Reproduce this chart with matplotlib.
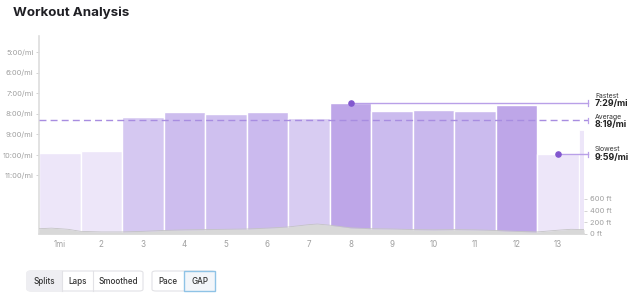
import matplotlib
matplotlib.use("Agg")
import matplotlib.pyplot as plt
from matplotlib.patches import FancyBboxPatch, Rectangle

plt.rcParams['font.family'] = ['Inter', 'DejaVu Sans']

# split data (pace in minutes per mile)
miles = [1, 2, 3, 4, 5, 6, 7, 8, 9, 10, 11, 12, 13]
pace = [9.93, 9.83, 8.17, 7.93, 8.0, 7.9, 8.2, 7.48, 7.85, 7.8, 7.85, 7.58, 9.98]
bar_colors = ['#ede6f9', '#ede6f9', '#d5c8f1', '#cdbdee', '#cfc0ef', '#cbbaee',
              '#d8ccf2', '#bea6e8', '#cbbbee', '#c9b8ed', '#cbbbee', '#bea6e8', '#ede6f9']
last_x = 13.56
last_w = 0.12
last_pace = 8.8
avg_pace = 8.32
fastest_mile, fastest_pace = 8, 7.48
slowest_mile, slowest_pace = 13, 9.98

pace_ticks = [5, 6, 7, 8, 9, 10, 11]
pace_labels = ['5:00/mi', '6:00/mi', '7:00/mi', '8:00/mi', '9:00/mi', '10:00/mi', '11:00/mi']

# elevation profile
elev_x = [0.5, 0.8, 1.2, 1.5, 2.0, 2.5, 3.0, 3.5, 4.0, 4.5, 5.0, 5.5, 6.0, 6.5, 7.0, 7.2,
          7.5, 8.0, 8.5, 9.0, 9.5, 10.0, 10.5, 11.0, 11.5, 12.0, 12.5, 13.0, 13.3, 13.62]
elev_ft = [90, 100, 80, 45, 35, 35, 45, 60, 70, 75, 80, 85, 100, 120, 160, 170,
           150, 105, 90, 85, 75, 70, 75, 70, 60, 45, 35, 65, 80, 75]
elev_ticks = [0, 200, 400, 600]
elev_labels = ['0 ft', '200 ft', '400 ft', '600 ft']

W, H = 639, 300
fig = plt.figure(figsize=(W / 100, H / 100), dpi=100)
fig.text(13 / W, 1 - 13 / H, 'Workout Analysis', fontsize=9.6, fontweight='bold',
         color='#1f1f24', va='center', ha='left')

ax = fig.add_axes([39 / W, (H - 234) / H, (584 - 39) / W, (234 - 36) / H])
base = 13.85
ax.set_ylim(base, 4.22)
ax.set_xlim(0.5, 13.62)

ax.bar(miles, [base - p for p in pace], bottom=pace, width=1.0, color=bar_colors,
       edgecolor='white', linewidth=1.0, zorder=2)
ax.bar([last_x], [base - last_pace], bottom=[last_pace], width=last_w, color='#ede6f9',
       edgecolor='white', linewidth=0.6, zorder=2)

ax.set_yticks(pace_ticks)
ax.set_yticklabels(pace_labels)
ax.set_xticks(miles)
ax.set_xticklabels(['1mi'] + [str(m) for m in miles[1:]])
ax.tick_params(axis='y', length=2.5, width=0.6, color='#cccccc', labelsize=5.4,
               labelcolor='#a0a0a0', pad=1.5)
ax.tick_params(axis='x', length=0, labelsize=5.8, labelcolor='#a0a0a0', pad=4)
for s in ['top', 'right']:
    ax.spines[s].set_visible(False)
ax.spines['left'].set_color('#dddddd')
ax.spines['left'].set_linewidth(1.2)
ax.spines['bottom'].set_color('#dddddd')
ax.spines['bottom'].set_linewidth(1.2)

# reference lines
line_end = 13.62 + 4 / 41.6
ax.plot([0.5, line_end], [avg_pace, avg_pace], color='#a88de0', lw=1.0,
        dashes=(5, 3), zorder=4, clip_on=False)
ax.plot([fastest_mile, line_end], [fastest_pace, fastest_pace], color='#b9a0e8', lw=1.0,
        zorder=4, clip_on=False)
ax.plot([slowest_mile, line_end], [slowest_pace, slowest_pace], color='#b9a0e8', lw=1.0,
        zorder=4, clip_on=False)
for yy in [fastest_pace, avg_pace, slowest_pace]:
    ax.plot([line_end, line_end], [yy - 0.13, yy + 0.13], color='#b9a0e8', lw=0.9,
            zorder=4, clip_on=False)
ax.scatter([fastest_mile, slowest_mile], [fastest_pace, slowest_pace], s=14,
           color='#8257cf', zorder=5)

# annotation labels (label / value offsets in points)
for name, val, yy, dy_name, dy_val in [('Fastest', '7:29/mi', fastest_pace, 5.4, 0),
                                       ('Average', '8:19/mi', avg_pace, 2.6, -2.9),
                                       ('Slowest', '9:59/mi', slowest_pace, 4.0, -2.2)]:
    ax.annotate(name, (line_end, yy), xytext=(5, dy_name), textcoords='offset points',
                fontsize=4.9, color='#333333', va='center', ha='left', annotation_clip=False)
    ax.annotate(val, (line_end, yy), xytext=(5, dy_val), textcoords='offset points',
                fontsize=6.4, fontweight='bold', color='#222222', va='center', ha='left',
                annotation_clip=False)

# elevation
ax2 = ax.twinx()
ax2.set_ylim(0, 198 / 11.7 * 200)
ax2.fill_between(elev_x, elev_ft, 0, color='#d8d8d8', lw=0, zorder=3)
ax2.plot(elev_x, elev_ft, color='#c4c4c4', lw=0.6)
ax2.set_yticks(elev_ticks)
ax2.set_yticklabels(elev_labels)
ax2.tick_params(axis='y', length=2.5, width=0.6, color='#cccccc', labelsize=5.4,
                labelcolor='#a0a0a0', pad=2)
for s in ['top', 'left', 'bottom', 'right']:
    ax2.spines[s].set_visible(False)

# toggle buttons
def button_group(x0, labels, widths, active, active_style):
    total = sum(widths)
    y0, h = H - 291, 20
    fig.patches.append(FancyBboxPatch((x0 / W, y0 / H), total / W, h / H,
                                      boxstyle='round,pad=0,rounding_size=0.006',
                                      transform=fig.transFigure, facecolor='white',
                                      edgecolor='#e2e2e6', lw=0.8))
    x = x0
    for i, (lab, w) in enumerate(zip(labels, widths)):
        if i == active:
            if active_style == 'fill':
                fig.patches.append(Rectangle((x / W, y0 / H), w / W, h / H,
                                             transform=fig.transFigure,
                                             facecolor='#eeeef2', edgecolor='none'))
            else:
                fig.patches.append(Rectangle((x / W, y0 / H), w / W, h / H,
                                             transform=fig.transFigure,
                                             facecolor='#f3f6fa', edgecolor='#8fc3e6', lw=1.0))
        elif i > 0:
            fig.lines.append(plt.Line2D([x / W, x / W], [y0 / H, (y0 + h) / H],
                                        transform=fig.transFigure, color='#e2e2e6', lw=0.8))
        fig.text((x + w / 2) / W, (y0 + h / 2) / H, lab, fontsize=5.8, color='#333333',
                 ha='center', va='center', fontweight='medium')
        x += w

button_group(27, ['Splits', 'Laps', 'Smoothed'], [35, 31, 50], 0, 'fill')
button_group(152, ['Pace', 'GAP'], [32, 31], 1, 'outline')

fig.savefig('out.png', dpi=100)
